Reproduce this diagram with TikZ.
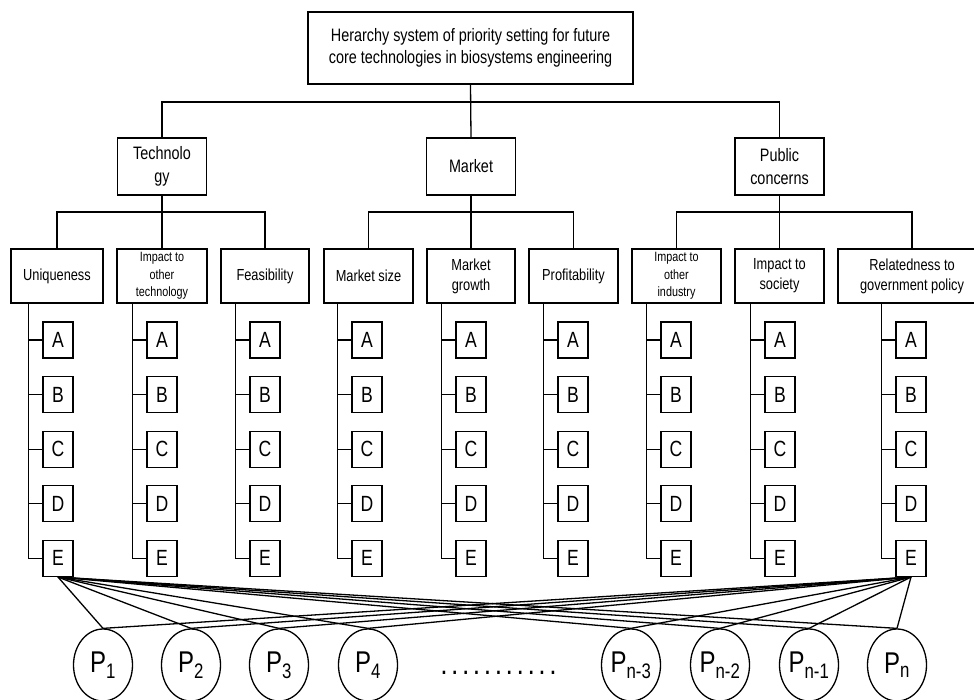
\documentclass[tikz,border=0pt]{standalone}
\usepackage{fontspec}
\setmainfont{Liberation Sans}[FakeStretch=0.8]
\usetikzlibrary{shapes.geometric}
\begin{document}
\begin{tikzpicture}[x=1pt,y=-1pt,line width=1.3pt,
  box/.style={draw,inner sep=0pt,align=center},
  ttl/.style={box,minimum width=325,minimum height=72,font=\fontsize{18}{22}\selectfont},
  cat/.style={box,minimum width=89,minimum height=57,font=\fontsize{18}{23}\selectfont},
  crit/.style={box,minimum height=54,font=\fontsize{16}{20}\selectfont},
  critsmall/.style={crit,font=\fontsize{13.5}{17.5}\selectfont},
  alt/.style={box,minimum width=30,minimum height=36,font=\fontsize{22}{22}\selectfont},
  proj/.style={ellipse,draw,inner sep=0pt,minimum width=59,minimum height=72,font=\fontsize{30}{30}\selectfont}]
\useasboundingbox (0,0) rectangle (974,699);
\clip (0,0) rectangle (974,699);
% top and categories
\node[ttl] (top) at (470.5,48) {Herarchy system of priority setting for future\\core technologies in biosystems engineering};
\node[cat] (tech) at (162,166.5) {Technolo\\gy};
\node[cat] (market) at (471,166.5) {Market};
\node[cat] (pub) at (779.5,166.5) {Public\\concerns};
\coordinate (h1) at (0,102);
\coordinate (h2) at (0,212);
\draw (tech.north) |- (pub.north |- h1) -- (pub.north);
\draw (top.south) -- (market.north);
% criteria
\node[crit,minimum width=92] (c1) at (57,276) {Uniqueness};
\node[critsmall,minimum width=90] (c2) at (162,276) {Impact to\\other\\technology};
\node[crit,minimum width=88] (c3) at (265,276) {Feasibility};
\node[crit,minimum width=89] (c4) at (368.5,276) {Market size};
\node[crit,minimum width=88] (c5) at (471,276) {Market\\growth};
\node[crit,minimum width=89] (c6) at (573.5,276) {Profitability};
\node[critsmall,minimum width=89] (c7) at (676.5,276) {Impact to\\other\\industry};
\node[crit,minimum width=89] (c8) at (779.5,276) {Impact to\\society};
\node[crit,minimum width=148] (c9) at (912,276) {Relatedness to\\government policy};
\draw (c1.north) |- (c3.north |- h2) -- (c3.north);
\draw (tech.south) -- (c2.north);
\draw (c4.north) |- (c6.north |- h2) -- (c6.north);
\draw (market.south) -- (c5.north);
\draw (c7.north) |- (c9.north |- h2) -- (c9.north);
\draw (pub.south) -- (c8.north);
% alternatives
\foreach \c/\x in {1/58,2/162,3/265,4/367,5/471,6/573,7/676,8/780,9/911}{
  \foreach \lt [count=\r from 0] in {A,B,C,D,E}{
    \node[alt] (s\c\lt) at (\x,340+54.6*\r) {\lt};
  }
  \coordinate (sp\c) at ([xshift=-14pt]s\c A.west);
  \foreach \lt in {A,B,C,D}{
    \draw (s\c\lt.west) -- (sp\c |- s\c\lt.west);
  }
  \draw (s\c E.west) -| (sp\c |- c\c.south);
}
% projects
\node[proj] (p1) at (103,665) {P\textsubscript{1}};
\node[proj] (p2) at (191,665) {P\textsubscript{2}};
\node[proj] (p3) at (279,665) {P\textsubscript{3}};
\node[proj] (p4) at (368,665) {P\textsubscript{4}};
\node[proj] (p5) at (631,665) {P\textsubscript{n-3}};
\node[proj] (p6) at (720,665) {P\textsubscript{n-2}};
\node[proj] (p7) at (809,665) {P\textsubscript{n-1}};
\node[proj] (p8) at (897,665) {P\textsubscript{n}};
\node[inner sep=0pt,font=\fontsize{22}{22}\selectfont\bfseries] (dots) at (498.5,673) {\hbox to 114pt{.\hfil.\hfil.\hfil.\hfil.\hfil.\hfil.\hfil.\hfil.\hfil.\hfil.}};
\foreach \i in {1,...,8}{
  \draw (s1E.south) -- (p\i.north);
  \draw (s9E.south) -- (p\i.north);
}
\end{tikzpicture}
\end{document}
